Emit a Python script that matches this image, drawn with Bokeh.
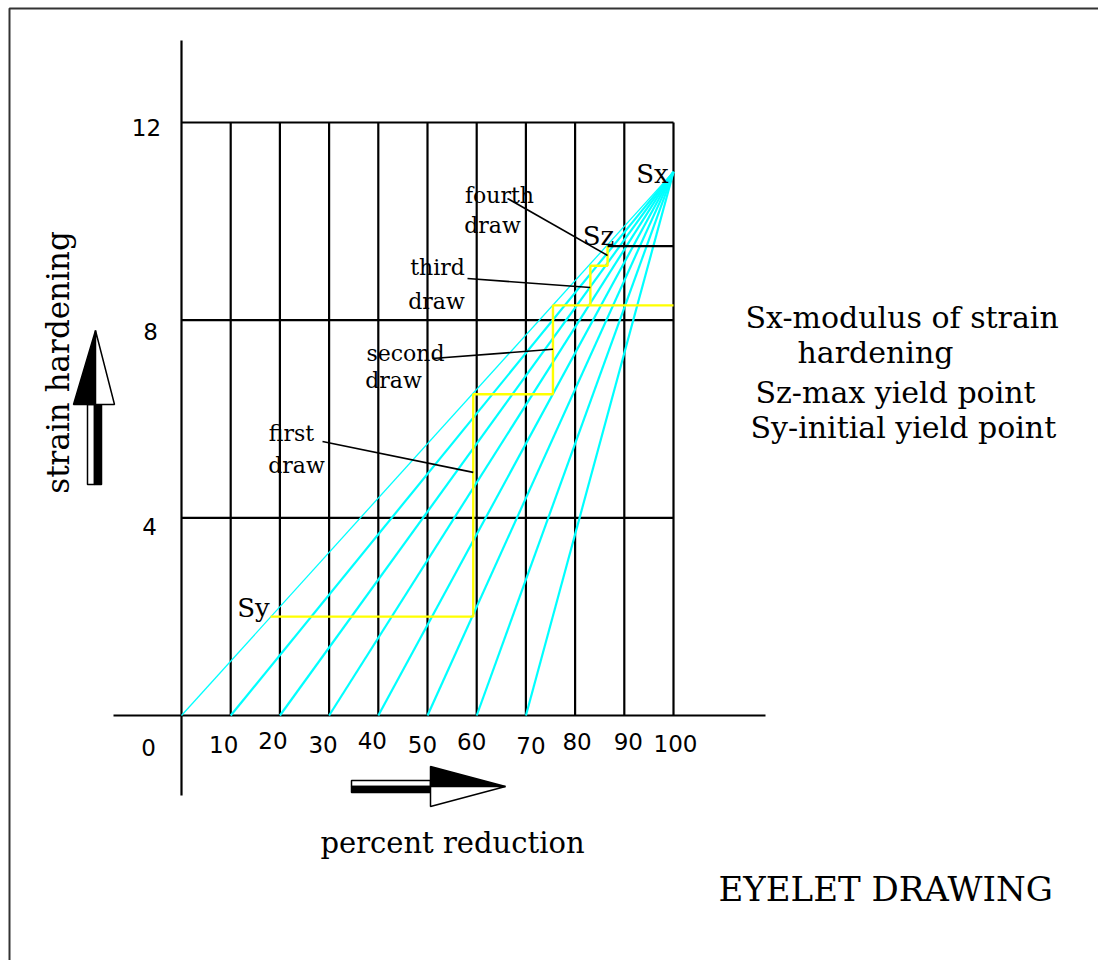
import math
from bokeh.plotting import figure
from bokeh.models import Range1d
from bokeh.core.properties import value
from bokeh.embed import file_html
from bokeh.resources import INLINE

# ---------------- data ----------------
x_ticks = [10, 20, 30, 40, 50, 60, 70, 80, 90, 100]
x_tick_labels = ["10", "20", "30", "40", "50", "60", "70", "80", "90", "100"]
y_ticks = [4, 8, 12]
y_tick_labels = ["4", "8", "12"]
origin_label = "0"

fan_start_x = [0, 10, 20, 30, 40, 50, 60, 70]   # cyan lines start on the x axis
sx_point = [100, 11.0]                            # Sx, where the fan converges

stair_x = [18.1, 59.3, 59.3, 75.5, 75.5, 100]    # yellow draw path (Sy -> ...)
stair_y = [2.0, 2.0, 6.5, 6.5, 8.3, 8.3]
step_x = [83.1, 83.1, 86.6, 86.6]                # last small yellow steps
step_y = [8.3, 9.1, 9.1, 9.5]
sz_x = [86.6, 100]                               # Sz level (black)
sz_y = [9.5, 9.5]

draw_words = ["first", "second", "third", "fourth"]
draw_end_x = [59.3, 75.5, 83.1, 86.6]            # leader line ends on the path
draw_end_y = [4.92, 7.41, 8.66, 9.31]

legend_lines = ["Sx-modulus of strain", "hardening",
                "Sz-max yield point", "Sy-initial yield point"]

# ---------------- layout / styles ----------------
W, H = 1098, 960
X0_PX, X_SCALE = 181.0, 4.92          # pixel of x=0, pixels per unit
Y0_PX, Y_SCALE = 715.0, 593.0 / 12    # pixel of y=0, pixels per unit


def xd(px):
    return (px - X0_PX) / X_SCALE


def yd(py):
    return (Y0_PX - py) / Y_SCALE


SERIF = value("DejaVu Serif")
SANS = value("DejaVu Sans")

p = figure(width=W, height=H, output_backend="svg", toolbar_location=None,
           x_axis_type=None, y_axis_type=None,
           x_range=Range1d(xd(0), xd(W)), y_range=Range1d(yd(H), yd(0)),
           min_border=0)
p.outline_line_color = None
p.background_fill_color = "white"
p.border_fill_color = "white"
p.grid.visible = False

# frame border (top and left only)
p.line([xd(9), xd(9), xd(W)], [yd(H), yd(8), yd(8)], line_color="#333333", line_width=2)

# grid
ymax = max(y_ticks)
xmax = max(x_ticks)
p.multi_line([[t, t] for t in x_ticks], [[0, ymax] for _ in x_ticks],
             line_color="black", line_width=2.2)
p.multi_line([[0, xmax] for _ in y_ticks], [[t, t] for t in y_ticks],
             line_color="black", line_width=2.2)

# axes lines
p.line([0, 0], [yd(795), yd(40)], line_color="black", line_width=2.2)
p.line([xd(113), xd(765)], [0, 0], line_color="black", line_width=2.2)

# cyan fan
p.multi_line([[x0, sx_point[0]] for x0 in fan_start_x[1:]],
             [[0, sx_point[1]] for _ in fan_start_x[1:]],
             line_color="#00FFFF", line_width=2.2)
p.line([fan_start_x[0], sx_point[0]], [0, sx_point[1]], line_color="#00FFFF", line_width=1.3)

# yellow path
p.line(stair_x, stair_y, line_color="#FFFF00", line_width=2.4)
p.line(step_x, step_y, line_color="#FFFF00", line_width=2.4)
p.line(sz_x, sz_y, line_color="black", line_width=2.2)

# leader lines
leader_start_px = [(322, 441), (432, 358), (467, 278), (507, 198)]
p.multi_line([[xd(sx), ex] for (sx, sy), ex in zip(leader_start_px, draw_end_x)],
             [[yd(sy), ey] for (sx, sy), ey in zip(leader_start_px, draw_end_y)],
             line_color="black", line_width=1.6)

# draw labels
word_pos_px = [(291, 433), (405, 353), (437, 267), (499, 195)]
draw_pos_px = [(296, 465), (393, 380), (436, 301), (492, 225)]
p.text(x=[xd(a) for a, b in word_pos_px], y=[yd(b) for a, b in word_pos_px], text=draw_words,
       text_font=SERIF, text_font_size="22px", text_align="center",
       text_baseline="alphabetic", text_color="black")
p.text(x=[xd(a) for a, b in draw_pos_px], y=[yd(b) for a, b in draw_pos_px],
       text=["draw"] * 4, text_font=SERIF, text_font_size="22px", text_align="center",
       text_baseline="alphabetic", text_color="black")

# S labels
p.text(x=[xd(652), xd(598), xd(253)], y=[yd(173), yd(235), yd(607)],
       text=["Sx", "Sz", "Sy"], text_font=SERIF, text_font_size="26px",
       text_align="center", text_baseline="alphabetic", text_color="black")

# tick labels
x_lab_dx = [-7, -7, -6, -6, -5, -5, 5, 2, 4, 2]
x_lab_base = [744, 740, 744, 740, 744, 741, 745, 741, 741, 743]
p.text(x=[t + d / X_SCALE for t, d in zip(x_ticks, x_lab_dx)],
       y=[yd(b) for b in x_lab_base], text=x_tick_labels,
       text_font=SANS, text_font_size="23px", text_align="center",
       text_baseline="alphabetic", text_color="black")
y_lab_px = [(149, 526), (150, 331), (146, 127)]
p.text(x=[xd(a) for a, b in y_lab_px], y=[yd(b) for a, b in y_lab_px], text=y_tick_labels,
       text_font=SANS, text_font_size="23px", text_align="center",
       text_baseline="alphabetic", text_color="black")
p.text(x=[xd(148)], y=[yd(747)], text=[origin_label], text_font=SANS, text_font_size="23px",
       text_align="center", text_baseline="alphabetic", text_color="black")

# axis titles
p.text(x=[xd(452)], y=[yd(842)], text=["percent reduction"], text_font=SERIF,
       text_font_size="29px", text_align="center", text_baseline="alphabetic",
       text_color="black")
p.text(x=[xd(57)], y=[yd(362)], text=["strain hardening"], angle=math.pi / 2,
       text_font=SERIF, text_font_size="31px", text_align="center",
       text_baseline="alphabetic", text_color="black")

# legend block
leg_px = [(745, 317), (797, 352), (755, 392), (750, 427)]
p.text(x=[xd(a) for a, b in leg_px], y=[yd(b) for a, b in leg_px], text=legend_lines,
       text_font=SERIF, text_font_size="30px", text_align="left",
       text_baseline="alphabetic", text_color="black")

p.text(x=[xd(718)], y=[yd(888)], text=["EYELET DRAWING"], text_font=SERIF,
       text_font_size="34px", text_align="left", text_baseline="alphabetic",
       text_color="black")

# vertical arrow (half black / half white)
p.patch([xd(87), xd(94), xd(94), xd(87)], [yd(484), yd(484), yd(404), yd(404)],
        fill_color="white", line_color="black", line_width=1.5)
p.patch([xd(94), xd(101), xd(101), xd(94)], [yd(484), yd(484), yd(404), yd(404)],
        fill_color="black", line_color="black", line_width=1.5)
p.patch([xd(73), xd(95), xd(95)], [yd(404), yd(330), yd(404)],
        fill_color="black", line_color="black", line_width=1.5)
p.patch([xd(95), xd(114), xd(95)], [yd(330), yd(404), yd(404)],
        fill_color="white", line_color="black", line_width=1.5)

# horizontal arrow
p.patch([xd(351), xd(430), xd(430), xd(351)], [yd(780), yd(780), yd(786), yd(786)],
        fill_color="white", line_color="black", line_width=1.5)
p.patch([xd(351), xd(430), xd(430), xd(351)], [yd(786), yd(786), yd(792), yd(792)],
        fill_color="black", line_color="black", line_width=1.5)
p.patch([xd(430), xd(505), xd(430)], [yd(766), yd(786), yd(786)],
        fill_color="black", line_color="black", line_width=1.5)
p.patch([xd(430), xd(505), xd(430)], [yd(786), yd(786), yd(806)],
        fill_color="white", line_color="black", line_width=1.5)

open("out.html", "w").write(file_html(p, INLINE))
